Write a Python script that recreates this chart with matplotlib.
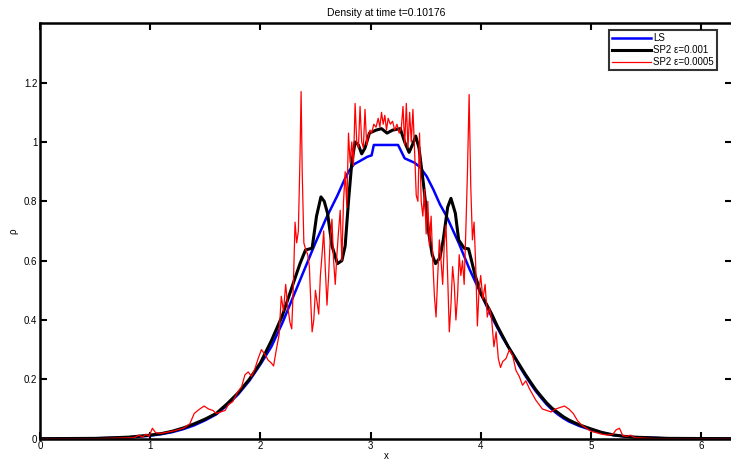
import numpy as np
import matplotlib
matplotlib.use("Agg")
from matplotlib import pyplot as plt

# LS solution
ls_x = [0.0, 0.5, 0.8, 1.0, 1.1, 1.2, 1.3, 1.4, 1.5, 1.6, 1.7, 1.8, 1.9, 2.0, 2.05, 2.1,
        2.15, 2.2, 2.25, 2.3, 2.4, 2.5, 2.6, 2.7, 2.76, 2.8, 2.85, 2.9, 2.97, 3.01, 3.03,
        3.1, 3.2, 3.25, 3.29, 3.31, 3.4, 3.45, 3.51, 3.57, 3.63, 3.69, 3.8, 3.9, 4.0,
        4.1, 4.15, 4.2, 4.25, 4.3, 4.35, 4.4, 4.45, 4.5, 4.55, 4.6, 4.65, 4.7, 4.75, 4.8,
        4.85, 4.9, 5.0, 5.1, 5.2, 5.3, 5.4, 5.7, 6.2832]
ls_y = [0.0, 0.001, 0.004, 0.01, 0.015, 0.022, 0.032, 0.045, 0.062, 0.082, 0.113, 0.15,
        0.195, 0.25, 0.28, 0.31, 0.35, 0.39, 0.435, 0.48, 0.57, 0.66, 0.745, 0.82, 0.87,
        0.90, 0.925, 0.935, 0.95, 0.955, 0.99, 0.99, 0.99, 0.99, 0.96, 0.945, 0.93, 0.915,
        0.884, 0.84, 0.79, 0.75, 0.66, 0.57, 0.49, 0.41, 0.375, 0.34, 0.31, 0.28, 0.245,
        0.215, 0.187, 0.16, 0.137, 0.115, 0.097, 0.082, 0.069, 0.058, 0.05, 0.042, 0.03,
        0.02, 0.012, 0.008, 0.005, 0.001, 0.0]

# SP2 eps=0.001
sp1_x = [0.0, 0.5, 0.8, 1.0, 1.1, 1.2, 1.3, 1.4, 1.5, 1.6, 1.7, 1.8, 1.9, 2.0, 2.1, 2.2,
         2.3, 2.36, 2.41, 2.47, 2.51, 2.55, 2.58, 2.61, 2.65, 2.70, 2.74, 2.77, 2.80, 2.83,
         2.86, 2.89, 2.92, 2.95, 2.99, 3.05, 3.1, 3.15, 3.2, 3.27, 3.31, 3.35, 3.38, 3.41,
         3.44, 3.48, 3.53, 3.56, 3.59, 3.63, 3.66, 3.70, 3.73, 3.77, 3.80, 3.85, 3.89,
         3.95, 4.0, 4.1, 4.15, 4.2, 4.25, 4.3, 4.35, 4.4, 4.45, 4.5, 4.55, 4.6, 4.65, 4.7,
         4.75, 4.8, 4.85, 4.9, 5.0, 5.1, 5.2, 5.3, 5.4, 5.7, 6.2832]
sp1_y = [0.0, 0.001, 0.005, 0.012, 0.017, 0.025, 0.036, 0.05, 0.066, 0.085, 0.118, 0.155,
         0.2, 0.255, 0.33, 0.415, 0.525, 0.59, 0.636, 0.642, 0.75, 0.815, 0.80, 0.76,
         0.65, 0.59, 0.60, 0.65, 0.80, 0.93, 1.0, 0.99, 0.96, 0.98, 1.03, 1.04, 1.045,
         1.03, 1.04, 1.045, 1.0, 0.965, 0.99, 1.02, 0.98, 0.86, 0.69, 0.62, 0.59, 0.61,
         0.67, 0.78, 0.81, 0.76, 0.67, 0.642, 0.64, 0.55, 0.49, 0.42, 0.38, 0.345, 0.31,
         0.28, 0.25, 0.22, 0.192, 0.165, 0.142, 0.12, 0.102, 0.088, 0.074, 0.063, 0.054,
         0.046, 0.033, 0.021, 0.013, 0.008, 0.005, 0.001, 0.0]

# SP2 eps=0.0005
sp2_x = [0.0, 0.5, 0.85, 0.9, 0.93, 0.96, 0.99, 1.02, 1.05, 1.1, 1.2, 1.3, 1.36, 1.40,
         1.45, 1.49, 1.53, 1.57, 1.60, 1.64, 1.68, 1.71, 1.75, 1.79, 1.83, 1.86, 1.89,
         1.92, 1.95, 1.98, 2.01, 2.04, 2.07, 2.10, 2.12, 2.15, 2.17, 2.19, 2.21, 2.23,
         2.25, 2.27, 2.285, 2.30, 2.315, 2.33, 2.345, 2.36, 2.37, 2.38, 2.395, 2.41, 2.43,
         2.445, 2.46, 2.47, 2.485, 2.50, 2.515, 2.53, 2.545, 2.56, 2.575, 2.59, 2.605,
         2.62, 2.635, 2.65, 2.665, 2.68, 2.695, 2.71, 2.725, 2.74, 2.755, 2.77, 2.785,
         2.80, 2.815, 2.83, 2.845, 2.86, 2.875, 2.89, 2.905, 2.92, 2.935, 2.95, 2.965,
         2.98, 2.995, 3.01, 3.03, 3.05, 3.07, 3.085, 3.10, 3.115, 3.13, 3.145, 3.16, 3.18,
         3.20, 3.22, 3.24, 3.26, 3.28, 3.295, 3.31, 3.325, 3.34, 3.355, 3.37, 3.385, 3.40,
         3.415, 3.43, 3.445, 3.46, 3.475, 3.49, 3.505, 3.52, 3.535, 3.55, 3.565, 3.58,
         3.595, 3.61, 3.625, 3.64, 3.655, 3.67, 3.685, 3.70, 3.715, 3.73, 3.745, 3.76,
         3.775, 3.79, 3.805, 3.82, 3.835, 3.85, 3.865, 3.88, 3.895, 3.91, 3.925, 3.94,
         3.955, 3.97, 3.985, 4.00, 4.02, 4.04, 4.06, 4.08, 4.10, 4.12, 4.14, 4.16, 4.18,
         4.20, 4.23, 4.26, 4.29, 4.32, 4.35, 4.38, 4.41, 4.44, 4.47, 4.50, 4.53, 4.56,
         4.60, 4.64, 4.68, 4.72, 4.76, 4.80, 4.84, 4.88, 4.92, 4.96, 5.00, 5.05, 5.10,
         5.15, 5.20, 5.23, 5.26, 5.29, 5.33, 5.36, 5.40, 5.6, 6.2832]
sp2_y = [0.0, 0.0, 0.003, 0.012, 0.005, 0.015, 0.008, 0.035, 0.02, 0.018, 0.025, 0.035,
         0.05, 0.085, 0.10, 0.11, 0.10, 0.095, 0.085, 0.09, 0.095, 0.115, 0.125, 0.155,
         0.175, 0.215, 0.225, 0.21, 0.235, 0.27, 0.30, 0.285, 0.265, 0.255, 0.245, 0.31,
         0.35, 0.48, 0.43, 0.52, 0.44, 0.39, 0.37, 0.52, 0.73, 0.66, 0.70, 0.95, 1.17,
         0.90, 0.66, 0.64, 0.62, 0.58, 0.44, 0.36, 0.40, 0.50, 0.46, 0.42, 0.55, 0.62,
         0.70, 0.57, 0.45, 0.55, 0.68, 0.74, 0.60, 0.52, 0.62, 0.70, 0.77, 0.60, 0.80,
         0.90, 0.78, 1.03, 0.93, 1.00, 0.92, 1.13, 1.00, 0.98, 1.12, 1.00, 0.98, 1.11,
         0.99, 1.02, 1.04, 1.03, 1.06, 1.05, 1.08, 1.05, 1.10, 1.06, 1.09, 1.04, 1.08,
         1.06, 1.07, 1.04, 1.06, 1.03, 1.05, 1.12, 0.99, 1.13, 0.98, 1.10, 1.00, 1.11,
         0.97, 0.82, 0.80, 1.03, 0.80, 0.75, 0.84, 0.69, 0.80, 0.65, 0.75, 0.60, 0.48,
         0.41, 0.55, 0.67, 0.60, 0.52, 0.66, 0.72, 0.55, 0.36, 0.45, 0.58, 0.52, 0.40,
         0.48, 0.62, 0.55, 0.60, 0.52, 0.70, 0.90, 1.16, 0.85, 0.67, 0.73, 0.58, 0.38,
         0.50, 0.55, 0.47, 0.52, 0.41, 0.44, 0.40, 0.31, 0.36, 0.27, 0.24, 0.26, 0.27,
         0.30, 0.28, 0.23, 0.21, 0.18, 0.195, 0.17, 0.15, 0.13, 0.115, 0.10, 0.095, 0.09,
         0.10, 0.105, 0.11, 0.10, 0.085, 0.06, 0.045, 0.035, 0.025, 0.02, 0.015, 0.012,
         0.015, 0.03, 0.035, 0.01, 0.008, 0.012, 0.003, 0.0, 0.0]

xticks = [0, 1, 2, 3, 4, 5, 6]
yticks = [0, 0.2, 0.4, 0.6, 0.8, 1.0, 1.2]
ytick_labels = ["0", "0.2", "0.4", "0.6", "0.8", "1", "1.2"]

plt.rcParams["font.family"] = ["Liberation Sans", "DejaVu Sans"]

fig = plt.figure(figsize=(7.31, 4.62), dpi=100)
ax = fig.add_axes([0.0547, 0.0505, 0.947, 0.899])

ax.plot(ls_x, ls_y, color="#0000ff", lw=1.8, label="LS")
ax.plot(sp1_x, sp1_y, color="black", lw=2.2, label="SP2 \u03b5=0.001")
ax.plot(sp2_x, sp2_y, color="#ff0000", lw=0.9, label="SP2 \u03b5=0.0005")

ax.set_xlim(0, 2 * np.pi)
ax.set_ylim(0, 1.4)
ax.set_xticks(xticks)
ax.set_xticklabels([str(t) for t in xticks])
ax.set_yticks(yticks)
ax.set_yticklabels(ytick_labels)
ax.tick_params(direction="in", length=5, width=1.5, labelsize=7, pad=2,
               top=True, right=True)
for s in ax.spines.values():
    s.set_linewidth(1.8)

ax.set_title("Density at time t=0.10176", fontsize=7.5, pad=5)
ax.set_xlabel("x", fontsize=7, labelpad=0)
ax.set_ylabel("\u03c1", fontsize=7, labelpad=4)

leg = ax.legend(loc="upper right", fontsize=7, handlelength=4, frameon=True,
                fancybox=False, borderaxespad=0.5, borderpad=0.3, labelspacing=0.2,
                handletextpad=0.3, bbox_to_anchor=(0.985, 0.995))
leg.get_frame().set_edgecolor("black")
leg.get_frame().set_linewidth(1.5)

plt.savefig("out.png", dpi=100)
